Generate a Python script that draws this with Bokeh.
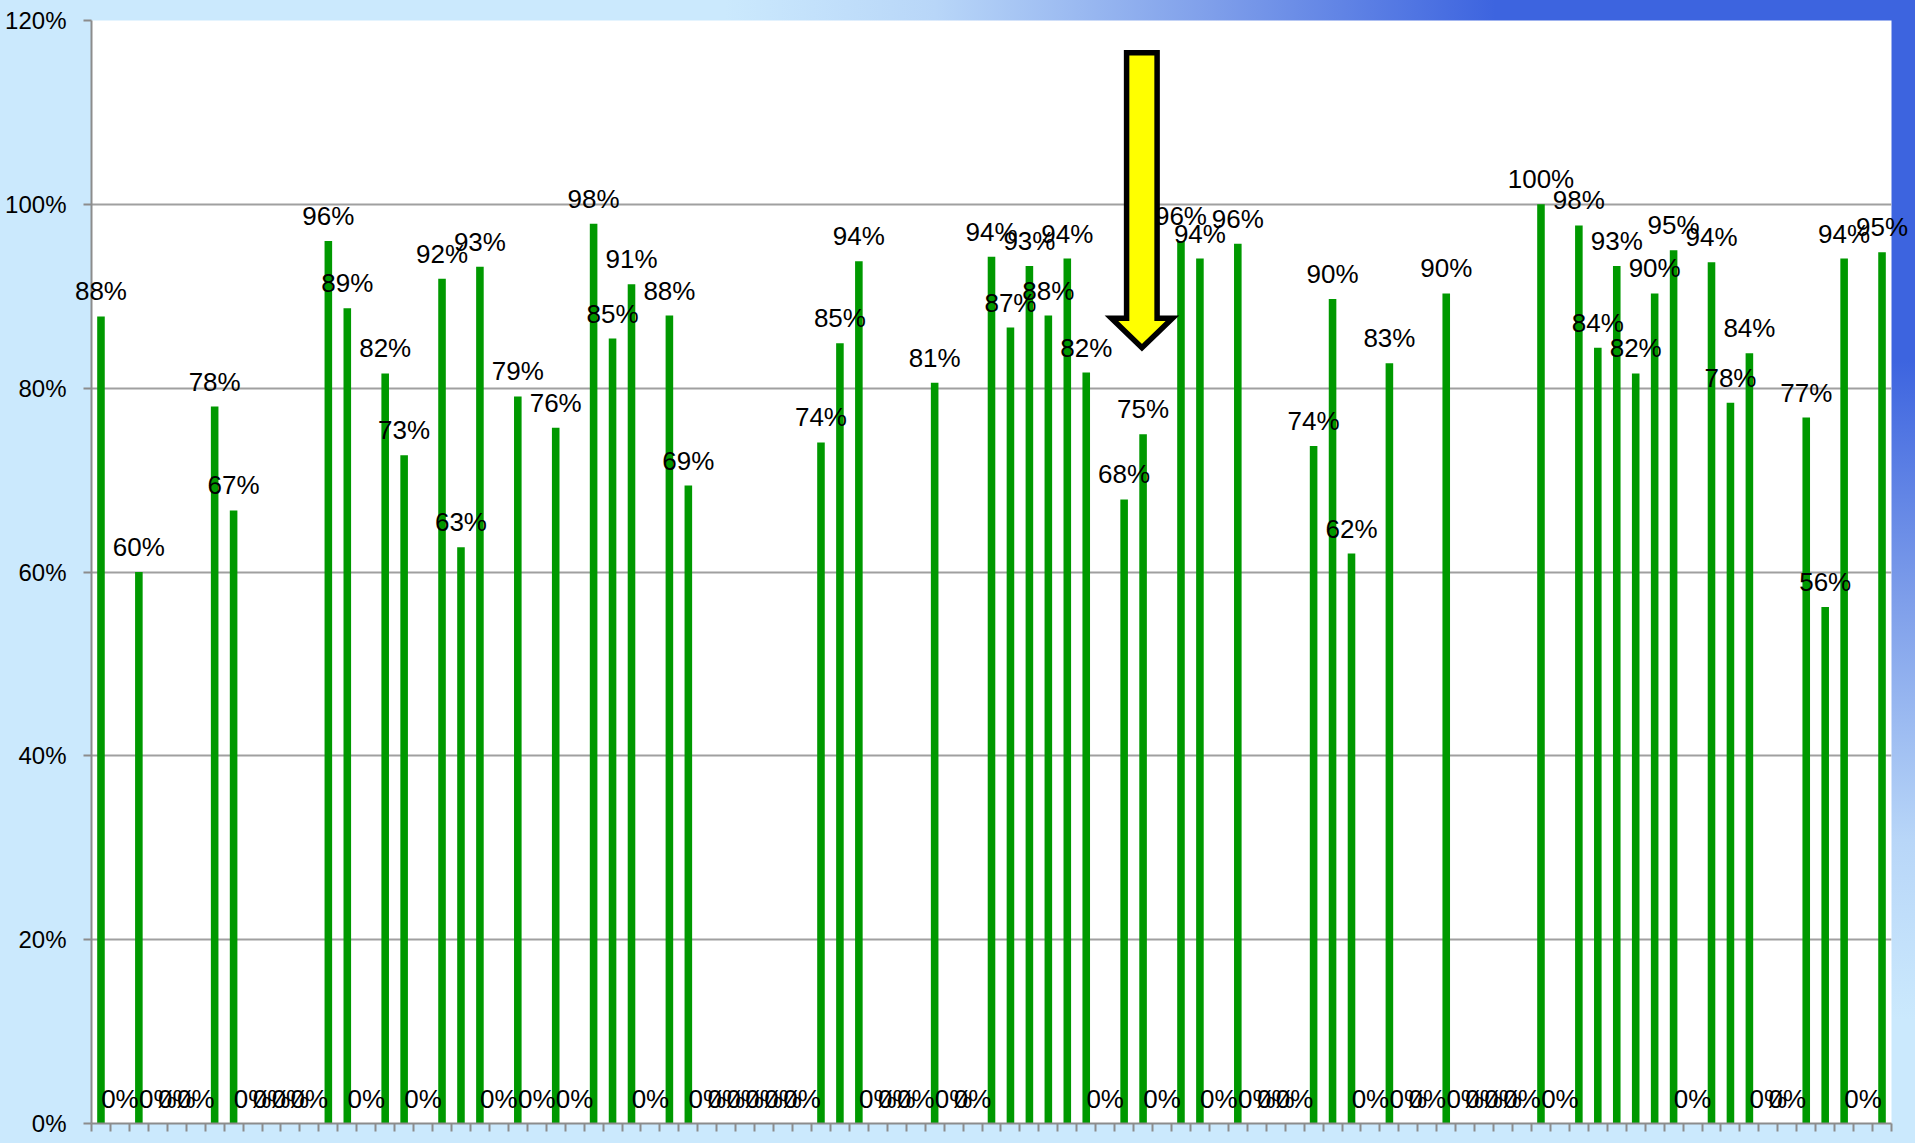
from bokeh.plotting import figure
from bokeh.models import (ColumnDataSource, FixedTicker, NumeralTickFormatter,
                          Range1d, CustomJSTickFormatter)
from bokeh.core.properties import value
from bokeh.embed import file_html
from bokeh.resources import INLINE

# ---------------- data ----------------
categories = list(range(95))  # 95 unnamed categories (no x tick labels)
values = [
    0.878, 0.000, 0.600, 0.000, 0.000, 0.000, 0.780, 0.667, 0.000, 0.000,
    0.000, 0.000, 0.960, 0.887, 0.000, 0.816, 0.727, 0.000, 0.919, 0.627,
    0.932, 0.000, 0.791, 0.000, 0.757, 0.000, 0.979, 0.854, 0.913, 0.000,
    0.879, 0.694, 0.000, 0.000, 0.000, 0.000, 0.000, 0.000, 0.741, 0.849,
    0.938, 0.000, 0.000, 0.000, 0.806, 0.000, 0.000, 0.943, 0.866, 0.933,
    0.879, 0.941, 0.817, 0.000, 0.679, 0.750, 0.000, 0.960, 0.941, 0.000,
    0.957, 0.000, 0.000, 0.000, 0.737, 0.897, 0.620, 0.000, 0.827, 0.000,
    0.000, 0.903, 0.000, 0.000, 0.000, 0.000, 1.000, 0.000, 0.977, 0.844,
    0.933, 0.816, 0.903, 0.950, 0.000, 0.937, 0.784, 0.838, 0.000, 0.000,
    0.768, 0.562, 0.941, 0.000, 0.948,
]
y_ticks = [0.0, 0.2, 0.4, 0.6, 0.8, 1.0, 1.2]

labels = [f"{round(v * 100)}%" for v in values]
source = ColumnDataSource(dict(x=categories, value=values, label=labels))

# ---------------- figure ----------------
W, H = 1915, 1143
p = figure(width=W, height=H, output_backend="svg", toolbar_location=None,
           x_range=Range1d(-0.5, len(categories) - 0.5), y_range=Range1d(0, 1.2),
           min_border_left=91, min_border_right=24, min_border_top=20, min_border_bottom=20)
p.border_fill_color = None
p.background_fill_color = "white"
p.outline_line_color = None
p.styles = {"background": "radial-gradient(ellipse 1400px 1200px at 100% 0%, "
                          "#3d64df 0%, #3d64df 30%, #7e9eea 50%, #b8d6f8 70%, #cbe9fd 85%)"}

FONT = "Liberation Sans"

p.vbar(x="x", top="value", width=0.4, source=source,
       fill_color="#009900", line_color=None)

# data labels above each bar (overlay level so they may extend past the plot area)
p.text(x="x", y="value", text="label", source=source,
       text_align="center", text_baseline="alphabetic", y_offset=-25,
       text_font=value(FONT), text_font_size=value("26px"), text_color="black",
       level="overlay")

# y axis
p.yaxis.ticker = FixedTicker(ticks=y_ticks)
p.yaxis.formatter = NumeralTickFormatter(format="0%")
p.yaxis.major_label_text_font = FONT
p.yaxis.major_label_text_font_size = "24px"
p.yaxis.major_label_text_color = "black"
p.yaxis.major_label_standoff = 17
p.yaxis.major_tick_out = 8
p.yaxis.major_tick_in = 0
p.yaxis.minor_tick_out = 0
p.yaxis.minor_tick_in = 0
p.yaxis.axis_line_color = "#8c8c8c"
p.yaxis.axis_line_width = 2
p.yaxis.major_tick_line_color = "#8c8c8c"
p.yaxis.major_tick_line_width = 2

# x axis: tick marks at category boundaries, no labels
p.xaxis.ticker = FixedTicker(ticks=[c - 0.5 for c in categories] + [len(categories) - 0.5])
p.xaxis.formatter = CustomJSTickFormatter(code="return '';")
p.xaxis.major_label_standoff = 0
p.xaxis.major_tick_out = 8
p.xaxis.major_tick_in = 0
p.xaxis.minor_tick_out = 0
p.xaxis.minor_tick_in = 0
p.xaxis.axis_line_color = "#8c8c8c"
p.xaxis.axis_line_width = 2
p.xaxis.major_tick_line_color = "#8c8c8c"
p.xaxis.major_tick_line_width = 2

p.xgrid.visible = False
p.ygrid.ticker = FixedTicker(ticks=y_ticks[1:])
p.ygrid.grid_line_color = "#a0a0a0"
p.ygrid.grid_line_width = 2

# ---------------- decorative arrow (annotation) ----------------
arrow_x = [54.13, 55.74, 55.74, 56.55, 54.94, 53.33, 54.13]
arrow_y = [1.165, 1.165, 0.876, 0.876, 0.844, 0.876, 0.876]
p.patch(arrow_x, arrow_y, fill_color="#ffff00", line_color="black",
        line_width=5.5, line_join="miter", level="overlay")

open("out.html", "w").write(file_html(p, INLINE))
